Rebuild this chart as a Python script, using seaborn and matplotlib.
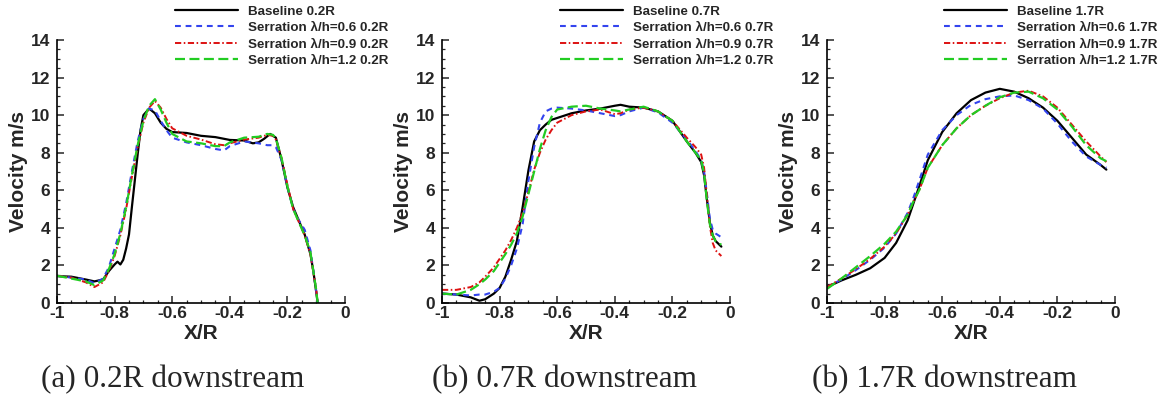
import numpy as np
import pandas as pd
import matplotlib
matplotlib.use("Agg")
import matplotlib.pyplot as plt
from matplotlib.ticker import MultipleLocator, FuncFormatter
import seaborn as sns

# ---------------- data ----------------
# Panel (a) 0.2R downstream
x_a_base = [-1, -0.95, -0.9, -0.87, -0.84, -0.82, -0.8, -0.79, -0.78, -0.77, -0.76, -0.75, -0.74, -0.73,
            -0.72, -0.71, -0.70, -0.68, -0.66, -0.64, -0.62, -0.6, -0.55, -0.5, -0.45, -0.4, -0.35, -0.32,
            -0.3, -0.28, -0.26, -0.24, -0.22, -0.2, -0.18, -0.16, -0.14, -0.12, -0.11, -0.10, -0.095]
v_a_base = [1.43, 1.4, 1.25, 1.15, 1.25, 1.7, 2.05, 2.2, 2.05, 2.3, 2.9, 3.65, 5.1, 6.5,
            7.9, 9.2, 10.0, 10.35, 10.1, 9.6, 9.27, 9.1, 9.05, 8.9, 8.83, 8.68, 8.65, 8.5,
            8.55, 8.75, 9.0, 8.8, 7.6, 6.15, 5.1, 4.37, 3.65, 2.6, 1.7, 0.6, 0.0]
x_a = [-1, -0.95, -0.9, -0.87, -0.84, -0.82, -0.8, -0.78, -0.76, -0.74, -0.72, -0.70, -0.68, -0.66,
       -0.64, -0.62, -0.6, -0.55, -0.5, -0.45, -0.42, -0.4, -0.35, -0.3, -0.27, -0.25, -0.24, -0.22,
       -0.2, -0.18, -0.16, -0.14, -0.12, -0.1, -0.095]
v_a_06 = [1.45, 1.35, 1.25, 1.05, 1.3, 1.9, 2.9, 3.9, 5.3, 7.0, 8.6, 9.8, 10.35, 10.25,
          9.7, 9.2, 8.8, 8.55, 8.4, 8.2, 8.12, 8.35, 8.6, 8.5, 8.4, 8.4, 8.3, 7.6,
          6.2, 5.0, 4.4, 3.9, 2.8, 0.6, 0.0]
v_a_09 = [1.45, 1.35, 1.1, 0.85, 1.1, 1.7, 2.5, 3.6, 5.0, 6.7, 8.3, 9.6, 10.4, 10.75,
          10.4, 9.8, 9.3, 8.9, 8.7, 8.45, 8.4, 8.5, 8.7, 8.8, 8.95, 8.9, 8.7, 7.7,
          6.3, 5.0, 4.3, 3.6, 2.6, 0.7, 0.0]
v_a_12 = [1.45, 1.3, 1.15, 0.95, 1.2, 1.8, 2.6, 3.7, 5.1, 6.8, 8.4, 9.7, 10.5, 10.85,
          10.3, 9.6, 9.0, 8.6, 8.5, 8.35, 8.35, 8.55, 8.8, 8.85, 9.0, 8.95, 8.75, 7.7,
          6.2, 5.0, 4.3, 3.6, 2.7, 0.7, 0.0]

# Panel (b) 0.7R downstream
x_b = [-1, -0.95, -0.9, -0.87, -0.85, -0.82, -0.8, -0.78, -0.76, -0.74, -0.72, -0.70, -0.68, -0.66,
       -0.64, -0.62, -0.6, -0.55, -0.5, -0.45, -0.4, -0.38, -0.35, -0.3, -0.25, -0.2, -0.15, -0.12,
       -0.1, -0.09, -0.08, -0.07, -0.06, -0.05, -0.03]
v_b_base = [0.5, 0.45, 0.3, 0.12, 0.2, 0.5, 0.8, 1.4, 2.3, 3.3, 5.1, 7.05, 8.6, 9.2,
            9.5, 9.75, 9.85, 10.1, 10.25, 10.35, 10.5, 10.55, 10.45, 10.4, 10.2, 9.7, 8.6, 8.0,
            7.5, 6.8, 5.5, 4.3, 3.6, 3.3, 3.0]
v_b_06 = [0.5, 0.45, 0.4, 0.45, 0.45, 0.6, 0.8, 1.3, 2.0, 2.9, 4.2, 6.5, 8.3, 9.6,
          10.2, 10.35, 10.4, 10.35, 10.25, 10.1, 9.95, 10.0, 10.2, 10.4, 10.15, 9.6, 8.7, 8.1,
          7.6, 7.0, 5.8, 4.5, 3.9, 3.7, 3.5]
v_b_09 = [0.7, 0.7, 0.85, 1.1, 1.4, 1.9, 2.35, 2.8, 3.35, 4.0, 4.8, 5.9, 7.1, 8.0,
          8.7, 9.2, 9.6, 10.0, 10.2, 10.3, 10.05, 10.1, 10.3, 10.4, 10.2, 9.7, 8.8, 8.3,
          7.9, 7.2, 5.7, 4.1, 3.2, 2.8, 2.5]
v_b_12 = [0.5, 0.45, 0.7, 1.0, 1.25, 1.7, 2.15, 2.6, 3.1, 3.7, 4.6, 5.8, 7.0, 8.2,
          9.2, 9.9, 10.3, 10.45, 10.5, 10.35, 10.25, 10.2, 10.3, 10.45, 10.2, 9.7, 8.6, 8.0,
          7.6, 6.9, 5.4, 4.2, 3.6, 3.3, 3.1]

# Panel (c) 1.7R downstream
x_c = [-1, -0.95, -0.9, -0.85, -0.8, -0.76, -0.72, -0.7, -0.68, -0.65, -0.6, -0.55, -0.5, -0.45,
       -0.4, -0.35, -0.3, -0.25, -0.2, -0.15, -0.1, -0.05, -0.03]
v_c_base = [0.85, 1.2, 1.5, 1.85, 2.4, 3.2, 4.4, 5.3, 6.2, 7.6, 9.1, 10.1, 10.8, 11.2,
            11.4, 11.25, 10.9, 10.4, 9.7, 8.8, 7.9, 7.35, 7.1]
v_c_06 = [0.85, 1.25, 1.75, 2.3, 2.95, 3.7, 4.8, 5.6, 6.5, 7.9, 9.2, 10.0, 10.55, 10.85,
          11.0, 11.05, 10.8, 10.35, 9.55, 8.6, 7.8, 7.35, 7.2]
v_c_09 = [0.85, 1.3, 1.8, 2.35, 3.0, 3.7, 4.7, 5.4, 6.0, 7.2, 8.4, 9.3, 10.0, 10.5,
          10.9, 11.2, 11.3, 11.0, 10.4, 9.5, 8.6, 7.8, 7.5]
v_c_12 = [0.75, 1.3, 1.9, 2.5, 3.15, 3.8, 4.7, 5.4, 6.0, 7.2, 8.4, 9.3, 10.0, 10.5,
          10.95, 11.2, 11.25, 10.9, 10.3, 9.4, 8.4, 7.7, 7.55]

positions = ["0.2R", "0.7R", "1.7R"]
captions = ["(a) 0.2R downstream", "(b) 0.7R downstream", "(b) 1.7R downstream"]
series_names = ["Baseline", "Serration \u03bb/h=0.6", "Serration \u03bb/h=0.9", "Serration \u03bb/h=1.2"]

panels = [
    [(x_a_base, v_a_base), (x_a, v_a_06), (x_a, v_a_09), (x_a, v_a_12)],
    [(x_b, v_b_base), (x_b, v_b_06), (x_b, v_b_09), (x_b, v_b_12)],
    [(x_c, v_c_base), (x_c, v_c_06), (x_c, v_c_09), (x_c, v_c_12)],
]

# ---------------- style ----------------
sns.set_theme(style="ticks")
plt.rcParams["font.family"] = ["Liberation Sans", "DejaVu Sans"]
plt.rcParams["axes.unicode_minus"] = False

colors = ["#000000", "#3344ee", "#dd1111", "#22cc22"]
styles = ["-", (0, (2.8, 2.3)), (0, (3.2, 1.3, 0.8, 1.3)), (0, (4.5, 2.0))]
widths = [1.6, 1.5, 1.4, 1.6]

W, H = 1167, 398
fig = plt.figure(figsize=(W / 100, H / 100), dpi=100)

ax_lefts = [57, 442, 827]
cap_centers = [173, 565, 944]
leg_lefts = [175, 560, 944]

for i in range(3):
    ax = fig.add_axes([ax_lefts[i] / W, 1 - 303 / H, 288 / W, 263 / H])
    for j, (xs, ys) in enumerate(panels[i]):
        df = pd.DataFrame({"x": xs, "v": ys})
        sns.lineplot(data=df, x="x", y="v", ax=ax, color=colors[j], linestyle=styles[j],
                     linewidth=widths[j], errorbar=None, sort=False,
                     label=f"{series_names[j]} {positions[i]}")
    ax.set_xlim(-1, 0)
    ax.set_ylim(0, 14)
    ax.xaxis.set_major_locator(MultipleLocator(0.2))
    ax.xaxis.set_minor_locator(MultipleLocator(0.05))
    ax.yaxis.set_major_locator(MultipleLocator(2))
    ax.yaxis.set_minor_locator(MultipleLocator(0.5))
    ax.xaxis.set_major_formatter(FuncFormatter(lambda v, p: "%g" % round(v, 2)))
    ax.yaxis.set_major_formatter(FuncFormatter(lambda v, p: "%g" % v))
    ax.tick_params(which="major", direction="in", length=5, width=1.1, labelsize=12.5)
    ax.tick_params(which="minor", direction="in", length=2.5, width=0.9)
    ax.tick_params(axis="y", which="major", pad=5)
    ax.tick_params(axis="x", which="major", pad=2.5)
    for lab in ax.get_xticklabels() + ax.get_yticklabels():
        lab.set_fontweight("bold")
    for s in ["top", "right"]:
        ax.spines[s].set_visible(False)
    for s in ["left", "bottom"]:
        ax.spines[s].set_linewidth(1.2)
        ax.spines[s].set_color("black")
    ax.set_xlabel("X/R", fontsize=15, fontweight="bold")
    ax.set_ylabel("Velocity m/s", fontsize=15, fontweight="bold")
    ax.xaxis.set_label_coords(0.5, -0.078)
    ax.yaxis.set_label_coords(-0.102, 0.5)

    leg = ax.legend(loc="upper left", bbox_to_anchor=(leg_lefts[i] / W, 1 - 5.5 / H),
                    bbox_transform=fig.transFigure, frameon=False, borderpad=0,
                    borderaxespad=0, handlelength=4.7, handletextpad=0.8,
                    labelspacing=0.3, prop={"size": 9.6, "weight": "bold"})

    fig.text(cap_centers[i] / W, 1 - 380 / H, captions[i], ha="center", va="center",
             fontsize=22.5, family="Liberation Serif")

fig.savefig("out.png", dpi=100)
